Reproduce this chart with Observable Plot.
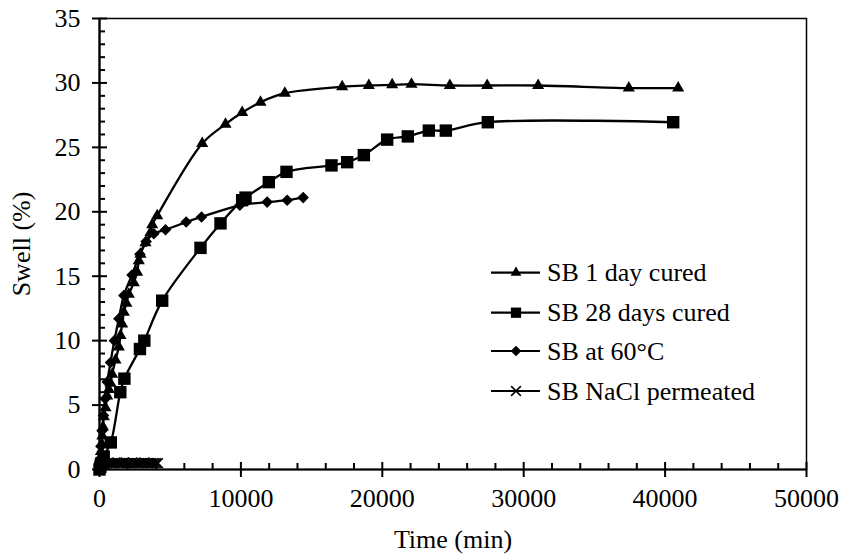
<!DOCTYPE html>
<html>
<head>
<meta charset="utf-8">
<script src="https://cdn.jsdelivr.net/npm/d3@7"></script>
<script src="https://cdn.jsdelivr.net/npm/@observablehq/plot@0.6"></script>
<style>
  html, body { margin: 0; padding: 0; background: #fff; }
  #chart { width: 845px; height: 554px; }
  #chart svg text { font-family: 'Liberation Serif', 'Times New Roman', serif; }
</style>
</head>
<body>
<div id="chart"></div>
<script>
// ---- Data ----
const seriesNames = ["SB 1 day cured", "SB 28 days cured", "SB at 60°C", "SB NaCl permeated"];

const time1 = [0, 30, 60, 100, 150, 200, 250, 306, 424, 542, 660, 778, 895, 1131, 1367, 1485, 1603, 1721, 1900, 2074, 2426, 2662, 2780, 2900, 3253, 3607, 3727, 4080, 7263, 8911, 10090, 11386, 13107, 17162, 19046, 20696, 22065, 24776, 27416, 31020, 37435, 40924];
const swell1 = [0, 0.4, 0.9, 1.4, 2.0, 2.6, 3.3, 4.1, 4.8, 5.7, 6.2, 6.7, 7.4, 8.5, 9.5, 10.4, 11.3, 12.2, 12.9, 13.6, 14.5, 15.3, 16.2, 16.7, 17.6, 18.4, 19.0, 19.7, 25.3, 26.8, 27.7, 28.5, 29.2, 29.7, 29.8, 29.85, 29.9, 29.8, 29.8, 29.8, 29.6, 29.6];

const time2 = [0, 60, 150, 300, 800, 1470, 1760, 2860, 3170, 4434, 7143, 8557, 10090, 10325, 11973, 13225, 16407, 17515, 18695, 20343, 21806, 23290, 24493, 27463, 40572];
const swell2 = [0, 0.2, 0.5, 1.0, 2.1, 6.0, 7.05, 9.35, 10.0, 13.1, 17.2, 19.1, 20.9, 21.1, 22.3, 23.1, 23.6, 23.85, 24.4, 25.6, 25.85, 26.3, 26.3, 26.95, 26.95];

const time3 = [0, 40, 100, 180, 280, 400, 550, 778, 1050, 1367, 1721, 2300, 2852, 3300, 3843, 4668, 6131, 7213, 9925, 11857, 13272, 14404];
const swell3 = [0, 0.8, 1.8, 3.0, 4.2, 5.5, 6.8, 8.3, 10.0, 11.7, 13.5, 15.1, 16.7, 17.7, 18.3, 18.6, 19.2, 19.6, 20.5, 20.75, 20.9, 21.1];

const time4 = [0, 15, 40, 80, 130, 200, 300, 420, 540, 660, 780, 900, 1020, 1140, 1260, 1380, 1500, 1620, 1740, 1860, 1980, 2100, 2220, 2340, 2460, 2580, 2700, 2820, 2940, 3060, 3180, 3300, 3420, 3540, 3660, 3780, 3900, 4020, 4140];
const swell4 = [0, 0.1, 0.2, 0.3, 0.35, 0.4, 0.45, 0.45, 0.5, 0.5, 0.5, 0.5, 0.5, 0.5, 0.55, 0.5, 0.5, 0.5, 0.55, 0.5, 0.5, 0.5, 0.5, 0.55, 0.5, 0.5, 0.5, 0.5, 0.5, 0.5, 0.55, 0.5, 0.5, 0.5, 0.5, 0.5, 0.5, 0.5, 0.5];

const xMajorTicks = [0, 10000, 20000, 30000, 40000, 50000];
const xMinorTicks = [2000, 4000, 6000, 8000, 12000, 14000, 16000, 18000, 22000, 24000, 26000, 28000, 32000, 34000, 36000, 38000, 42000, 44000, 46000, 48000];
const yMajorTicks = [0, 5, 10, 15, 20, 25, 30, 35];
const yMinorTicks = [1, 2, 3, 4, 6, 7, 8, 9, 11, 12, 13, 14, 16, 17, 18, 19, 21, 22, 23, 24, 26, 27, 28, 29, 31, 32, 33, 34];

// ---- Build tables ----
const rows = (ts, ss, name) => ts.map((t, i) => ({t, s: ss[i], series: name}));
const d1 = rows(time1, swell1, seriesNames[0]);
const d2 = rows(time2, swell2, seriesNames[1]);
const d3s = rows(time3, swell3, seriesNames[2]);
const d4 = rows(time4, swell4, seriesNames[3]);

const font = "'Liberation Serif', 'Times New Roman', serif";
const FS = 26;
const W = 845, H = 554, mL = 99, mR = 39, mT = 18, mB = 85;
const innerW = W - mL - mR, innerH = H - mT - mB;

const symbolR = {tri: 4.5, sq: 7, dia: 5.2, x: 4.5};

const chart = Plot.plot({
  width: W, height: H,
  marginLeft: mL, marginRight: mR, marginTop: mT, marginBottom: mB,
  style: {fontFamily: font, fontSize: FS + "px", color: "black", background: "white", overflow: "visible"},
  x: {domain: [0, 50000]},
  y: {domain: [0, 35]},
  marks: [
    Plot.frame({stroke: "black", strokeWidth: 1.5}),
    // axes lines
    Plot.ruleX([0], {stroke: "black", strokeWidth: 2.2}),
    Plot.ruleY([0], {stroke: "black", strokeWidth: 2.2}),
    // ticks
    Plot.tickX(xMajorTicks, {x: d => d, stroke: "black", strokeWidth: 2, insetTop: innerH - 7, insetBottom: -8}),
    Plot.tickX(xMinorTicks, {x: d => d, stroke: "black", strokeWidth: 2, insetTop: innerH - 6, insetBottom: 0}),
    Plot.tickY(yMajorTicks, {y: d => d, stroke: "black", strokeWidth: 2, insetLeft: -7, insetRight: innerW - 8}),
    Plot.tickY(yMinorTicks, {y: d => d, stroke: "black", strokeWidth: 2, insetLeft: 0, insetRight: innerW - 6}),
    // tick labels + titles
    Plot.axisX({ticks: xMajorTicks, tickSize: 0, tickPadding: 19, tickFormat: d => String(d),
      fontSize: FS, fontFamily: font, label: "Time (min)", labelArrow: "none", labelAnchor: "center", labelOffset: 78}),
    Plot.axisY({ticks: yMajorTicks, tickSize: 0, tickPadding: 19, tickFormat: d => String(d),
      fontSize: FS, fontFamily: font, label: "Swell (%)", labelArrow: "none", labelAnchor: "center", labelOffset: 88}),
    // series
    Plot.line(d4, {x: "t", y: "s", stroke: "black", strokeWidth: 2.2}),
    Plot.dot(d4, {x: "t", y: "s", symbol: "times", r: symbolR.x, stroke: "black", strokeWidth: 1.5}),
    Plot.line(d3s, {x: "t", y: "s", stroke: "black", strokeWidth: 2.3, curve: "catmull-rom"}),
    Plot.dot(d3s, {x: "t", y: "s", symbol: "diamond2", r: symbolR.dia, fill: "black", stroke: "none"}),
    Plot.line(d2, {x: "t", y: "s", stroke: "black", strokeWidth: 2.3, curve: "catmull-rom"}),
    Plot.dot(d2, {x: "t", y: "s", symbol: "square", r: symbolR.sq, fill: "black", stroke: "none"}),
    Plot.line(d1, {x: "t", y: "s", stroke: "black", strokeWidth: 2.3, curve: "catmull-rom"}),
    Plot.dot(d1, {x: "t", y: "s", symbol: "triangle", r: symbolR.tri, fill: "black", stroke: "none"})
  ]
});

document.getElementById("chart").appendChild(chart);

// ---- Legend (inside the plot area) ----
const svg = d3.select(chart);
const legendItems = [
  {name: seriesNames[0], sym: d3.symbolTriangle, r: 4.0, fill: true},
  {name: seriesNames[1], sym: d3.symbolSquare, r: 5.8, fill: true},
  {name: seriesNames[2], sym: d3.symbolDiamond2, r: 4.8, fill: true},
  {name: seriesNames[3], sym: d3.symbolTimes, r: 4.5, fill: false}
];
const lg = svg.append("g").attr("font-family", font).attr("font-size", FS).attr("text-anchor", "start");
const rowY = [272.7, 312.7, 351, 391];
legendItems.forEach((it, i) => {
  const y = rowY[i];
  lg.append("line").attr("x1", 491).attr("x2", 540).attr("y1", y).attr("y2", y)
    .attr("stroke", "black").attr("stroke-width", 2.2);
  lg.append("path").attr("transform", `translate(516,${y})`)
    .attr("d", d3.symbol(it.sym, it.r * it.r * Math.PI)())
    .attr("fill", it.fill ? "black" : "none")
    .attr("stroke", it.fill ? "none" : "black").attr("stroke-width", 1.5);
  lg.append("text").attr("x", 547).attr("y", y + 8.5).attr("fill", "black")
    .attr("text-anchor", "start").text(it.name);
});
</script>
</body>
</html>
